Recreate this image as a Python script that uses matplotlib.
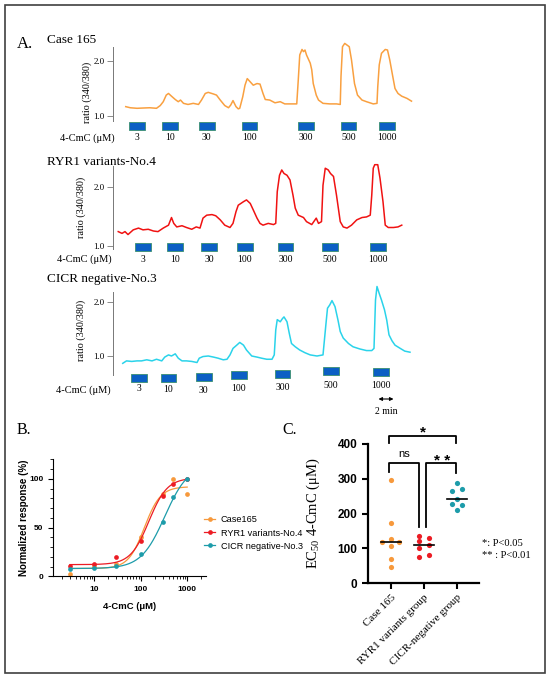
import numpy as np
import matplotlib
matplotlib.use("Agg")
import matplotlib.pyplot as plt
from matplotlib.lines import Line2D
from matplotlib.patches import Rectangle
from matplotlib.ticker import MultipleLocator

plt.rcParams['font.family'] = ['Liberation Serif', 'DejaVu Serif']
plt.rcParams['mathtext.fontset'] = 'custom'
plt.rcParams['mathtext.rm'] = 'Liberation Serif'
plt.rcParams['mathtext.it'] = 'Liberation Serif:italic'

W, H = 550, 678
SANS = ['Liberation Sans', 'DejaVu Sans']

# ---------------- A. Ca2+ traces (time in min, ratio 340/380)
conc_labels = ["3", "10", "30", "100", "300", "500", "1000"]

case_t = [1.7, 2.3, 3.2, 4.0, 4.9, 5.8, 6.3, 6.7, 7.1, 7.4, 7.8, 8.3, 8.7, 9.0, 9.4,
          10.0, 10.7, 11.4, 11.8, 12.3, 12.7, 13.4, 13.8, 14.3, 14.9, 15.4, 15.7, 16.0,
          16.4, 16.7, 16.9, 17.3, 17.6, 17.9, 18.3, 18.7, 19.2, 19.6, 20.0, 20.3, 20.9,
          21.6, 22.3, 22.9, 23.8, 24.5, 24.7, 24.9, 25.2, 25.4, 25.6, 25.8, 26.0, 26.3,
          26.5, 26.7, 27.1, 27.4, 28.0, 28.9, 29.8, 30.3, 30.4, 30.6, 30.9, 31.2, 31.5,
          31.8, 32.2, 32.6, 33.2, 33.8, 34.7, 35.2, 35.3, 35.5, 35.8, 36.3, 36.6, 36.9,
          37.3, 37.6, 38.0, 38.5, 39.2, 39.8]
case_ratio = [1.17, 1.15, 1.14, 1.145, 1.15, 1.14, 1.19, 1.26, 1.38, 1.41, 1.36, 1.30,
              1.26, 1.29, 1.23, 1.21, 1.23, 1.21, 1.29, 1.41, 1.43, 1.40, 1.38, 1.29,
              1.19, 1.15, 1.20, 1.28, 1.17, 1.13, 1.14, 1.35, 1.56, 1.68, 1.62, 1.56,
              1.59, 1.58, 1.41, 1.30, 1.29, 1.24, 1.26, 1.22, 1.22, 1.22, 1.65, 2.11,
              2.21, 2.17, 2.20, 2.11, 2.05, 1.96, 1.84, 1.59, 1.38, 1.29, 1.23, 1.22,
              1.22, 1.21, 1.72, 2.26, 2.32, 2.29, 2.26, 2.02, 1.59, 1.38, 1.29, 1.26,
              1.22, 1.23, 1.53, 1.93, 2.14, 2.21, 2.20, 2.02, 1.72, 1.50, 1.41, 1.36,
              1.32, 1.27]
case_stim = [3.2, 7.6, 12.5, 18.2, 25.7, 31.4, 36.5]

ryr1_t = [0.7, 1.2, 1.6, 2.0, 2.7, 3.4, 4.0, 4.7, 5.4, 6.0, 6.7, 7.4, 7.8, 8.1, 8.5,
          9.2, 9.8, 10.5, 11.1, 11.6, 12.0, 12.5, 13.2, 13.7, 14.3, 14.9, 15.6, 16.0,
          16.4, 16.7, 17.4, 17.8, 18.3, 18.7, 19.2, 19.6, 20.0, 20.7, 21.4, 21.7, 21.9,
          22.2, 22.5, 22.8, 23.2, 23.6, 24.0, 24.3, 24.7, 25.4, 25.8, 26.5, 27.1, 27.4,
          27.8, 28.0, 28.3, 28.7, 29.0, 29.4, 29.8, 30.3, 30.7, 31.2, 31.8, 32.5, 33.2,
          33.8, 34.3, 34.5, 34.7, 34.9, 35.3, 35.6, 36.0, 36.3, 36.7, 37.4, 38.0, 38.5]
ryr1_ratio = [1.24, 1.21, 1.24, 1.19, 1.27, 1.30, 1.27, 1.28, 1.25, 1.24, 1.30, 1.35,
              1.48, 1.38, 1.32, 1.34, 1.31, 1.28, 1.32, 1.30, 1.47, 1.52, 1.53, 1.51,
              1.44, 1.35, 1.31, 1.38, 1.58, 1.69, 1.75, 1.78, 1.72, 1.61, 1.47, 1.38,
              1.35, 1.38, 1.36, 1.38, 1.92, 2.20, 2.29, 2.23, 2.20, 2.12, 1.86, 1.64,
              1.52, 1.48, 1.41, 1.36, 1.47, 1.38, 1.41, 2.03, 2.32, 2.29, 2.23, 2.18,
              1.86, 1.41, 1.32, 1.30, 1.35, 1.44, 1.48, 1.49, 1.52, 1.86, 2.32, 2.38,
              2.38, 2.15, 1.75, 1.35, 1.31, 1.31, 1.32, 1.35]
ryr1_stim = [4.0, 8.3, 12.8, 17.6, 23.0, 28.9, 35.3]

cicr_t = [1.3, 1.8, 2.5, 3.2, 3.8, 4.5, 5.2, 5.8, 6.5, 6.9, 7.4, 7.8, 8.3, 8.7, 9.2,
          9.8, 10.5, 11.2, 11.5, 12.0, 12.7, 13.4, 14.0, 14.7, 15.2, 15.6, 16.0, 16.5,
          16.9, 17.4, 17.8, 18.5, 19.2, 19.8, 20.5, 21.2, 21.5, 21.7, 21.9, 22.3, 22.6,
          22.8, 23.2, 23.5, 23.8, 24.3, 24.9, 25.6, 26.3, 27.2, 28.0, 28.4, 28.6, 28.9,
          29.2, 29.6, 30.0, 30.3, 30.7, 31.4, 32.0, 32.9, 33.8, 34.5, 34.8, 35.0, 35.2,
          35.5, 35.8, 36.2, 36.5, 36.8, 37.2, 37.6, 38.3, 38.9, 39.6]
cicr_ratio = [0.865, 0.91, 0.90, 0.91, 0.91, 0.93, 0.91, 0.94, 0.91, 0.98, 1.02, 1.00,
              1.04, 0.96, 0.91, 0.91, 0.90, 0.88, 0.96, 0.99, 1.00, 0.98, 0.96, 0.93,
              0.94, 1.02, 1.14, 1.20, 1.25, 1.20, 1.11, 1.00, 0.98, 0.96, 0.94, 0.94,
              1.02, 1.48, 1.67, 1.63, 1.69, 1.72, 1.63, 1.42, 1.23, 1.17, 1.11, 1.06,
              1.02, 1.00, 1.02, 1.60, 1.88, 1.94, 2.02, 1.91, 1.66, 1.45, 1.33, 1.23,
              1.17, 1.13, 1.10, 1.10, 1.14, 2.03, 2.28, 2.15, 2.03, 1.85, 1.66, 1.39,
              1.28, 1.20, 1.14, 1.09, 1.07]
cicr_stim = [3.5, 7.4, 12.1, 16.8, 22.6, 29.1, 35.7]

# ---------------- B. dose response
conc = [3, 10, 30, 100, 300, 500, 1000]
resp_case = [2, 11, 13, 40.5, 84, 100, 84]
resp_ryr1 = [11, 13, 19.5, 36.5, 82.7, 94.5, 100]
resp_cicr = [7.5, 8.5, 11, 22.5, 56, 81, 100]
# Hill fits: bottom, top, EC50, slope
fit_case = (8, 92, 120, 2.5)
fit_ryr1 = (12, 101, 150, 2.2)
fit_cicr = (8, 115, 330, 1.7)

# ---------------- C. EC50 per cell
groups = ["Case 165", "RYR1 variants group", "CICR-negative group"]
ec50_case = [296, 172, 126, 119, 119, 106, 68, 45]
ec50_ryr1 = [135, 129, 122, 108, 102, 80, 74]
ec50_cicr = [287, 270, 266, 242, 226, 225, 209]

ORANGE, RED, TEAL = '#F7993C', '#EC1C24', '#1D9CAA'
TR_ORANGE, TR_RED, TR_CYAN = '#F9A040', '#F01212', '#2AD3EA'
BAR_FACE, BAR_EDGE = '#0B5FC4', '#3A9070'


def hill(x, bottom, top, ec50, slope):
    return bottom + (top - bottom) / (1 + (ec50 / x) ** slope)


fig = plt.figure(figsize=(W / 100, H / 100), dpi=100)


def ftext(x, y, s, **kw):
    return fig.text(x / W, 1 - y / H, s, **kw)


def trace_panel(t, ratio, color, stim, top, bottom, y1, y2, spine, bar_y, lab_y):
    ax = fig.add_axes([113 / W, 1 - bottom / H, 307 / W, (bottom - top) / H])
    ppu = y1 - y2
    to_v = lambda y: 1 + (y1 - y) / ppu
    ax.set_xlim(0, 307 / 7.5)
    ax.set_ylim(to_v(bottom), to_v(top))
    ax.plot(t, ratio, color=color, lw=1.1)
    for sp in ['top', 'right', 'bottom']:
        ax.spines[sp].set_visible(False)
    ax.spines['left'].set_bounds(to_v(spine[1]), to_v(spine[0]))
    ax.spines['left'].set_color('#777777')
    ax.spines['left'].set_linewidth(0.7)
    ax.set_xticks([])
    ax.set_yticks([1.0, 2.0], labels=['1.0', '2.0'])
    ax.tick_params(axis='y', length=4, width=0.6, color='#777777', labelsize=6.5, pad=2)
    by = bar_y if isinstance(bar_y, list) else [bar_y] * len(stim)
    ly = lab_y if isinstance(lab_y, list) else [lab_y] * len(stim)
    ax.bar(stim, 8 / ppu, width=2.1, bottom=[to_v(b) - 4 / ppu for b in by],
           color=BAR_FACE, edgecolor=BAR_EDGE, linewidth=0.6, clip_on=False)
    for s, lab, yy in zip(stim, conc_labels, ly):
        ax.text(s, to_v(yy), lab, ha='center', va='center', fontsize=7, clip_on=False)
    return ax, to_v


ax1, _ = trace_panel(case_t, case_ratio, TR_ORANGE, case_stim, 40, 150, 116, 61,
                     (47, 121), 126, 138)
ax2, _ = trace_panel(ryr1_t, ryr1_ratio, TR_RED, ryr1_stim, 160, 268, 245.7, 187,
                     (166, 249), 246.7, 259)
ax3, v3 = trace_panel(cicr_t, cicr_ratio, TR_CYAN, cicr_stim, 285, 420, 356, 301.7,
                      (292, 375), [378.3, 377.7, 376.7, 375.3, 374, 371, 372.3],
                      [388.3, 389.3, 390.7, 388.7, 387.3, 385, 385.3])
ax3.annotate('', xy=(35.4, v3(399)), xytext=(37.4, v3(399)),
             arrowprops=dict(arrowstyle='<|-|>', color='black', lw=0.8,
                             mutation_scale=5, shrinkA=0, shrinkB=0),
             annotation_clip=False)
ax3.text(36.4, v3(411), '2 min', ha='center', va='center', fontsize=7, clip_on=False)

ftext(17, 44, 'A.', fontsize=12, va='center')
ftext(47, 40, 'Case 165', fontsize=9.5, va='center')
ftext(47, 162, 'RYR1 variants-No.4', fontsize=9.5, va='center')
ftext(47, 279, 'CICR negative-No.3', fontsize=9.5, va='center')
for x, y in [(115, 138), (112, 259), (111, 390)]:
    ftext(x, y, '4-CmC (\u03bcM)', fontsize=7.5, ha='right', va='center')
for x, y in [(87, 92), (81, 207), (81, 330)]:
    ftext(x, y, 'ratio (340/380)', fontsize=7.3, rotation=90, ha='center', va='center')

# ---------------- B
axb = fig.add_axes([53 / W, 1 - 576.3 / H, 152.7 / W, 116.9 / H])
xs = np.geomspace(3, 1000, 200)
for resp, fit, col in [(resp_case, fit_case, ORANGE),
                       (resp_ryr1, fit_ryr1, RED),
                       (resp_cicr, fit_cicr, TEAL)]:
    axb.plot(xs, hill(xs, *fit), color=col, lw=0.9)
    axb.plot(conc, resp, 'o', color=col, ms=3.4, mew=0)
axb.set_xscale('log')
axb.set_xlim(1.3, 2500)
axb.set_ylim(0, 120)
axb.spines[['top', 'right']].set_visible(False)
axb.set_yticks([0, 50, 100], labels=['0', '50', '100'], fontsize=6, fontweight='bold',
               family=SANS)
axb.yaxis.set_minor_locator(MultipleLocator(10))
axb.set_xticks([10, 100, 1000], labels=['10', '100', '1000'], fontsize=6,
               fontweight='bold', family=SANS)
axb.tick_params(which='major', length=3.5, width=0.8)
axb.tick_params(which='minor', length=2, width=0.6)
axb.set_ylabel('Normalized response (%)', fontsize=7, fontweight='bold', family=SANS)
axb.yaxis.set_label_coords(-0.16, 0.5)
axb.set_xlabel('4-CmC (\u03bcM)', fontsize=6.8, fontweight='bold', family=SANS)
axb.xaxis.set_label_coords(0.5, -0.22)
handles = [Line2D([], [], color=c, marker='o', ms=3.4, mew=0, lw=0.9)
           for c in (ORANGE, RED, TEAL)]
fig.legend(handles, ['Case165', 'RYR1 variants-No.4', 'CICR negative-No.3'],
           loc='center left', bbox_to_anchor=(204 / W, 1 - 533 / H), frameon=False,
           prop=dict(family=SANS, size=6.6), handlelength=1.2, handletextpad=0.65,
           labelspacing=0.45, borderpad=0, borderaxespad=0)
ftext(17, 430, 'B.', fontsize=11.5, va='center')

# ---------------- C
axc = fig.add_axes([368 / W, 1 - 583 / H, 111 / W, 139 / H])
axc.set_xlim(-0.688, 2.676)
axc.set_ylim(0, 400)
offsets = [[0, 0, 0, -0.25, 0.25, 0, 0, 0],
           [-0.15, 0.15, -0.15, 0.15, -0.15, 0.15, -0.15],
           [0, 0.15, -0.15, 0, -0.15, 0.15, 0]]
for i, (vals, col, dx) in enumerate(zip([ec50_case, ec50_ryr1, ec50_cicr],
                                        [ORANGE, RED, TEAL], offsets)):
    axc.scatter(np.array(dx) + i, vals, s=14, color=col, linewidths=0, zorder=3)
    med = np.median(vals)
    axc.plot([i - 0.3, i + 0.3], [med, med], color='black', lw=1.2, zorder=4)
axc.spines[['top', 'right']].set_visible(False)
axc.spines[['left', 'bottom']].set_linewidth(1.6)
axc.set_yticks([0, 100, 200, 300, 400], labels=['0', '100', '200', '300', '400'],
               fontsize=8.5, fontweight='bold', family=SANS)
axc.set_xticks([0, 1, 2], labels=groups, rotation=45, ha='right',
               rotation_mode='anchor', fontsize=8)
axc.tick_params(length=4, width=1.5)
axc.tick_params(axis='x', pad=3)
axc.set_ylabel('EC$_{50}$ 4-CmC (\u03bcM)', fontsize=10.5)
axc.yaxis.set_label_coords(-0.41, 0.5)

bk = dict(color='black', lw=1.3, clip_on=False)
axc.plot([-0.04, -0.04, 0.87, 0.87], [319, 344.5, 344.5, 162], **bk)
axc.plot([1.07, 1.07, 1.98, 1.98], [162, 344.5, 344.5, 315.7], **bk)
axc.plot([-0.04, -0.04, 1.98, 1.98], [403, 424, 424, 403], **bk)
axc.text(0.41, 363.5, 'ns', ha='center', va='baseline', fontsize=8, family=SANS)
axc.text(1.55, 341, '* *', ha='center', va='baseline', fontsize=11, fontweight='bold',
         family=SANS)
axc.text(0.98, 421.6, '*', ha='center', va='baseline', fontsize=11, fontweight='bold',
         family=SANS, clip_on=False)
ftext(482, 544, '*: P<0.05', fontsize=7.6, va='center')
ftext(482, 555, '** : P<0.01', fontsize=7.6, va='center')
ftext(282, 430, 'C.', fontsize=11.5, va='center')

fig.patches.append(Rectangle((5 / W, 5 / H), 540 / W, 668 / H, transform=fig.transFigure,
                             fill=False, edgecolor='#404040', lw=1.2))

fig.savefig('out.png', dpi=100)
